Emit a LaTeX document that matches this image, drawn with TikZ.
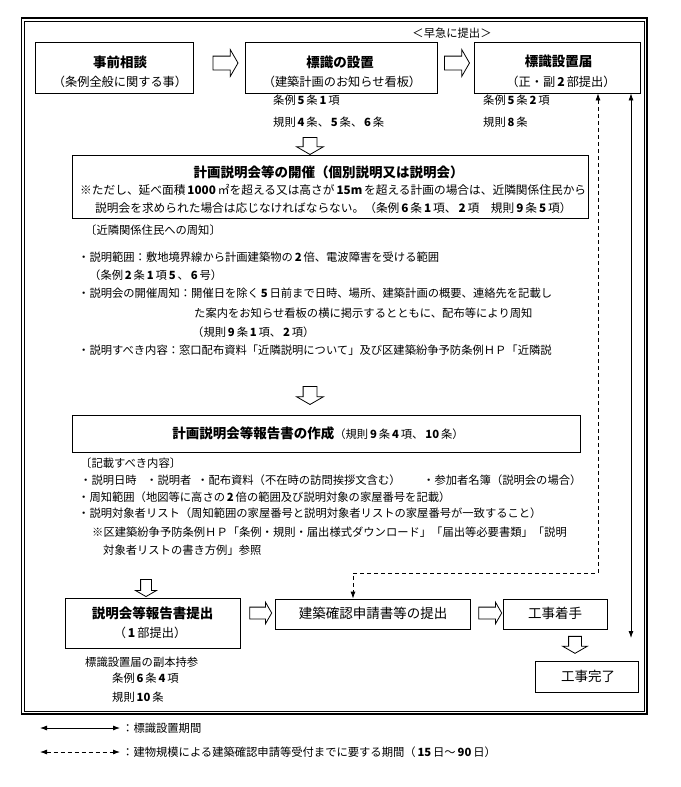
\documentclass[tikz,border=0pt]{standalone}
\usepackage{fontspec}
\setmainfont{Noto Sans CJK JP}
\usetikzlibrary{shapes.arrows,arrows.meta}
\newcommand{\dg}[1]{\,\textbf{#1}\,}
\tikzset{
  box/.style={draw, line width=0.8pt, inner sep=0pt},
  txt/.style={inner sep=0pt, anchor=west, font=\fontsize{11.3}{13}\selectfont},
  ktxt/.style={inner sep=0pt, anchor=west, font=\fontsize{11.7}{14}\selectfont},
  ctxt/.style={inner sep=0pt, font=\fontsize{12.2}{14}\selectfont},
  ttl/.style={inner sep=0pt, font=\bfseries\fontsize{13.5}{16}\selectfont},
  ttlr/.style={inner sep=0pt, font=\fontsize{13.5}{16}\selectfont},
  harrow/.style={draw, line width=0.8pt, single arrow, single arrow head extend=6.5pt,
    single arrow tip angle=120, minimum height=25pt, text height=0pt, text depth=0pt,
    inner xsep=0pt, inner ysep=6.5pt},
  varrow/.style={harrow, rotate=-90},
  link/.style={line width=0.8pt, {Latex[length=7pt,width=5pt]}-{Latex[length=7pt,width=5pt]}},
  dlink/.style={link, dash pattern=on 4pt off 3pt},
}
\begin{document}
\begin{tikzpicture}[x=1pt,y=-1pt]
\useasboundingbox (0,0) rectangle (680,787);
\fill[white] (0,0) rectangle (680,787);
% frame
\draw[line width=1.6pt] (21.5,18) rectangle (647,714);
\draw[line width=0.6pt] (24.5,21) rectangle (644,711);

% top row
\node[box, minimum width=158pt, minimum height=51pt] (b1) at (114,67.5) {};
\node[ttl] (b1t) at (120,62) {事前相談};
\node[ctxt] (b1s) at (120,82) {（条例全般に関する事）};
\node[harrow] (a1) at (223.5,63) {};
\node[box, minimum width=192pt, minimum height=51pt] (b2) at (341,67.5) {};
\node[ttl] (b2t) at (340,62) {標識の設置};
\node[ctxt] (b2s) at (342,82) {（建築計画のお知らせ看板）};
\node[harrow] (a2) at (455,63) {};
\node[box, minimum width=166pt, minimum height=51pt] (b3) at (557,67.5) {};
\node[ttl] (b3t) at (558.5,61.5) {標識設置届};
\node[ctxt] (b3s) at (561,82) {（正・副\dg{2}部提出）};
\node[txt, anchor=center] (n0) at (452,33) {＜早急に提出＞};
\node[txt] (n1) at (273,100) {条例\dg{5}条\dg{1}項};
\node[txt] (n2) at (273,122) {規則\dg{4}条、\dg{5}条、\dg{6}条};
\node[txt] (n3) at (483,100) {条例\dg{5}条\dg{2}項};
\node[txt] (n4) at (483,122) {規則\dg{8}条};

\node[varrow, minimum height=17pt] (d1) at (310,144) {};

% kaisai
\node[box, minimum width=516pt, minimum height=63pt] (k) at (330,186.5) {};
\node[ttl] (kt) at (328.5,172) {計画説明会等の開催（個別説明又は説明会）};
\node[ktxt] (k2) at (80,190) {※ただし、延べ面積\dg{1000}㎡を超える又は高さが\dg{15m}を超える計画の場合は、近隣関係住民から};
\node[ktxt] (k3) at (95,208) {説明会を求められた場合は応じなければならない。（条例\dg{6}条\dg{1}項、\dg{2}項　規則\dg{9}条\dg{5}項）};

\node[txt] (s0) at (85,230) {〔近隣関係住民への周知〕};
\node[txt] (s1) at (78,257) {・説明範囲：敷地境界線から計画建築物の\dg{2}倍、電波障害を受ける範囲};
\node[txt] (s2) at (89,275) {（条例\dg{2}条\dg{1}項\dg{5}、\dg{6}号）};
\node[txt] (s3) at (78,293) {・説明会の開催周知：開催日を除く\dg{5}日前まで日時、場所、建築計画の概要、連絡先を記載し};
\node[txt] (s4) at (194,313) {た案内をお知らせ看板の横に掲示するとともに、配布等により周知};
\node[txt] (s5) at (192,332) {（規則\dg{9}条\dg{1}項、\dg{2}項）};
\node[txt] (s6) at (78,350) {・説明すべき内容：窓口配布資料「近隣説明について」及び区建築紛争予防条例ＨＰ「近隣説};

\node[varrow, minimum height=18pt] (d2) at (310,393.5) {};

% houkoku
\node[box, minimum width=508pt, minimum height=37pt] (h) at (326,433.5) {};
\node[inner sep=0pt] (ht) at (318,433) {{\bfseries\fontsize{13.5}{16}\selectfont 計画説明会等報告書の作成}{\fontsize{11.3}{14}\selectfont （規則\dg{9}条\dg{4}項、\dg{10}条）}};

\node[txt] (r0) at (80,463) {〔記載すべき内容〕};
\node[txt] (r1a) at (80,480) {・説明日時};
\node[txt] (r1b) at (146,480) {・説明者};
\node[txt] (r1c) at (197,480) {・配布資料（不在時の訪問挨拶文含む）};
\node[txt] (r1d) at (423,480) {・参加者名簿（説明会の場合）};
\node[txt] (r2) at (78,497) {・周知範囲（地図等に高さの\dg{2}倍の範囲及び説明対象の家屋番号を記載）};
\node[txt] (r3) at (78,513) {・説明対象者リスト（周知範囲の家屋番号と説明対象者リストの家屋番号が一致すること）};
\node[txt] (r4) at (92,532) {※区建築紛争予防条例ＨＰ「条例・規則・届出様式ダウンロード」「届出等必要書類」「説明};
\node[txt] (r5) at (103,550) {対象者リストの書き方例」参照};

\node[varrow, minimum height=17pt, inner ysep=5pt, single arrow head extend=5pt] (d3) at (146,586.5) {};

% bottom row
\node[box, minimum width=175pt, minimum height=50pt] (p) at (152.5,623) {};
\node[ttl] (pt) at (152.5,613) {説明会等報告書提出};
\node[ctxt] (ps) at (150,633) {（\dg{1}部提出）};
\node[harrow, minimum height=22pt, inner ysep=5.5pt, single arrow head extend=5pt] (a3) at (259,613) {};
\node[box, minimum width=195pt, minimum height=30pt] (kk) at (372.5,614) {};
\node[ttlr] (kkt) at (373,613) {建築確認申請書等の提出};
\node[harrow, minimum height=23pt, inner ysep=5.5pt, single arrow head extend=5pt] (a4) at (488.5,613) {};
\node[box, minimum width=104pt, minimum height=30pt] (c) at (555,614) {};
\node[ttlr] (ct) at (555,613) {工事着手};
\node[varrow, minimum height=17pt, inner ysep=6pt, single arrow head extend=6pt] (d4) at (575,643) {};
\node[box, minimum width=103pt, minimum height=31pt] (e) at (586.5,676.5) {};
\node[ttlr] (et) at (588,676) {工事完了};

\node[txt] (q1) at (85,662) {標識設置届の副本持参};
\node[txt] (q2) at (112,678) {条例\dg{6}条\dg{4}項};
\node[txt] (q3) at (112,697) {規則\dg{10}条};

% period connectors
\coordinate (dc1) at (598,573);
\coordinate (dc2) at (353,573);
\draw[dlink] (b3.south -| dc1) -- (dc1) -- (dc2) -- (dc2 |- kk.north);
\coordinate (se) at (631,638);
\draw[link] (b3.south -| se) -- (se);

% legend
\coordinate (l1a) at (40,728);
\coordinate (l1b) at (120,728);
\draw[link] (l1a) -- (l1b);
\node[txt] (lt1) at (122,728) {：標識設置期間};
\coordinate (l2a) at (40,752);
\coordinate (l2b) at (120,752);
\draw[dlink] (l2a) -- (l2b);
\node[txt] (lt2) at (122,752) {：建物規模による建築確認申請等受付までに要する期間（\dg{15}日～\dg{90}日）};
\end{tikzpicture}
\end{document}
